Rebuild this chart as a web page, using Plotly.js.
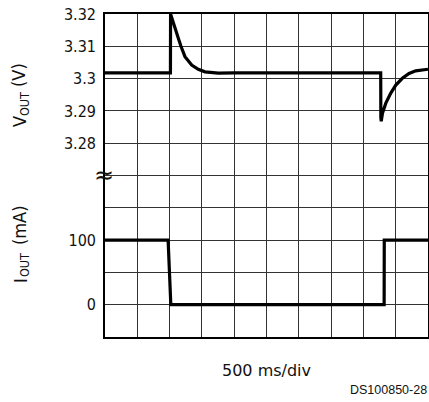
<!DOCTYPE html>
<html>
<head>
<meta charset="utf-8">
<script src="https://cdn.plot.ly/plotly-3.0.1.min.js"></script>
<style>
html,body{margin:0;padding:0;background:#fff;}
#chart{width:429px;height:402px;}
</style>
</head>
<body>
<div id="chart"></div>
<script>
// time in ms (500 ms/div)
var vTime = [0, 1013, 1015, 1084, 1135, 1176, 1238, 1342, 1444, 1548, 1754, 2000, 3000, 4268,
             4270, 4276, 4295, 4347, 4424, 4502, 4603, 4707, 4810, 4965, 5000];
var vOut  = [3.3018, 3.3018, 3.3200, 3.3161, 3.3125, 3.3100, 3.3068, 3.3042, 3.3029, 3.3021, 3.3017, 3.3018, 3.3018, 3.3018,
             3.2880, 3.2868, 3.2893, 3.2924, 3.2955, 3.2980, 3.3001, 3.3016, 3.3024, 3.3029, 3.3029];
var iTime = [0, 977, 1019, 4321, 4323, 5000];
var iOut  = [100, 100, 0, 0, 100, 100];

var vGrid = [3.22, 3.23, 3.24, 3.25, 3.26, 3.27, 3.28, 3.29, 3.30, 3.31, 3.32];
var vTicks = [3.28, 3.29, 3.30, 3.31, 3.32];
var vTickText = ['3.28', '3.29', '3.3', '3.31', '3.32'];
var iTicks = [0, 100];
var iTickText = ['0', '100'];

var labelFamily = '"DejaVu Sans Condensed", "DejaVu Sans", sans-serif';
var tickFont = {family: labelFamily, size: 16, color: '#111'};

var traces = [
  {x: vTime, y: vOut, type: 'scatter', mode: 'lines', yaxis: 'y',
   line: {color: '#000', width: 3.2}, hoverinfo: 'skip'},
  {x: iTime, y: iOut, type: 'scatter', mode: 'lines', yaxis: 'y2',
   line: {color: '#000', width: 3.2}, hoverinfo: 'skip'},
  {x: [vTime[0]], y: [vOut[0]], type: 'scatter', mode: 'none', yaxis: 'y3',
   hoverinfo: 'skip', showlegend: false}
];

function px(x){ return (x - 105) / 323; }
function py(y){ return (337 - y) / 323; }
function rot(text, x, y, size){
  return {xref: 'paper', yref: 'paper', x: px(x), y: py(y), text: text,
          textangle: -90, showarrow: false, xanchor: 'center', yanchor: 'middle',
          font: {family: labelFamily, size: size, color: '#111'}};
}

var layout = {
  width: 429, height: 402,
  margin: {l: 105, r: 1, t: 14, b: 65},
  paper_bgcolor: '#fff', plot_bgcolor: '#fff',
  showlegend: false,
  xaxis: {
    range: [0, 5000], tickmode: 'linear', tick0: 0, dtick: 500,
    showticklabels: false, ticks: '', showgrid: true, gridcolor: '#333', gridwidth: 1,
    zeroline: false, showline: true, mirror: true, linecolor: '#000', linewidth: 2,
    fixedrange: true
  },
  yaxis: {
    range: [3.22, 3.32], tickmode: 'array', tickvals: vGrid,
    showticklabels: false, ticks: '',
    showgrid: true, gridcolor: '#333', gridwidth: 1,
    zeroline: false, showline: true, mirror: true, linecolor: '#000', linewidth: 2,
    fixedrange: true
  },
  yaxis2: {
    overlaying: 'y', side: 'left', anchor: 'x',
    range: [-50, 450], tickmode: 'array', tickvals: iTicks, ticktext: iTickText,
    ticks: '', ticklabelstandoff: 8, tickfont: tickFont,
    showgrid: false, zeroline: false, showline: false, fixedrange: true
  },
  yaxis3: {
    overlaying: 'y', side: 'left', anchor: 'x',
    range: [3.22, 3.32], tickmode: 'array', tickvals: vTicks, ticktext: vTickText,
    ticks: '', ticklabelstandoff: 8, tickfont: tickFont,
    showgrid: false, zeroline: false, showline: false, fixedrange: true
  },
  annotations: [
    rot('V', 20, 122, 18),
    rot('OUT', 24, 104, 12.5),
    rot('(V)', 19, 75, 18),
    rot('I', 20, 281, 18),
    rot('OUT', 24, 265, 12.5),
    rot('(mA)', 19, 225, 18),
    {xref: 'paper', yref: 'paper', x: px(104), y: py(175), text: '≈',
     showarrow: false, xanchor: 'center', yanchor: 'middle',
     font: {family: '"DejaVu Sans", sans-serif', size: 24, color: '#111'}},
    {xref: 'paper', yref: 'paper', x: px(266), y: py(370.5), text: '500 ms/div',
     showarrow: false, xanchor: 'center', yanchor: 'middle',
     font: {family: '"DejaVu Sans", sans-serif', size: 16, color: '#111'}},
    {xref: 'paper', yref: 'paper', x: px(429), y: py(390), text: 'DS100850-28',
     showarrow: false, xanchor: 'right', yanchor: 'middle',
     font: {family: '"Liberation Sans", Arial, sans-serif', size: 12.5, color: '#111'}}
  ]
};

Plotly.newPlot('chart', traces, layout, {displayModeBar: false, staticPlot: true});
</script>
</body>
</html>
